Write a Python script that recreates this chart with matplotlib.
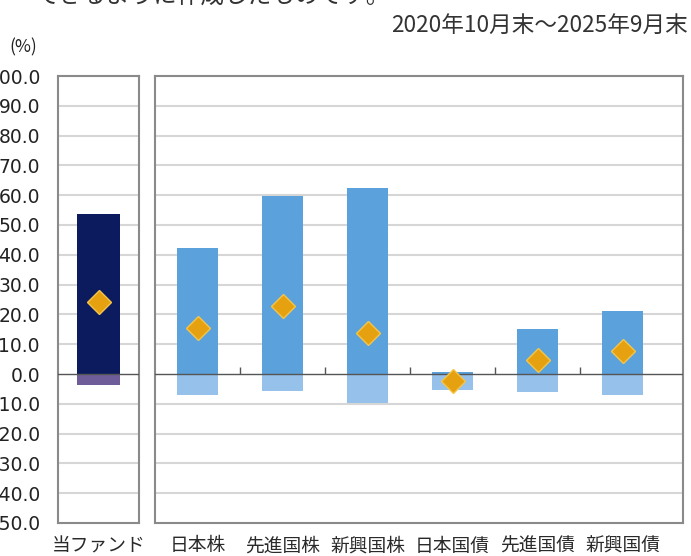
import numpy as np
import matplotlib.pyplot as plt

plt.rcParams['font.family'] = ['Noto Sans CJK JP', 'DejaVu Sans']

# 当ファンド
fund_label = ["当ファンド"]
fund_max = [53.7]
fund_min = [-3.7]
fund_avg = [24.2]

# 各資産
assets = ["日本株", "先進国株", "新興国株", "日本国債", "先進国債", "新興国債"]
asset_max = [42.3, 59.7, 62.4, 0.7, 15.1, 21.1]
asset_min = [-7.0, -5.7, -9.7, -5.4, -6.0, -7.0]
asset_avg = [15.4, 22.8, 13.8, -2.3, 4.7, 7.7]

yticks = np.arange(-50, 101, 10)

fig = plt.figure(figsize=(6.91, 5.56), dpi=100)
ax1 = fig.add_axes([58 / 691, 1 - 523 / 556, 81 / 691, 447 / 556])
ax2 = fig.add_axes([155 / 691, 1 - 523 / 556, 528 / 691, 447 / 556])

grid_c = "#d6d6d6"
for ax in (ax1, ax2):
    ax.set_ylim(-50, 100)
    ax.set_yticks(yticks)
    for y in yticks[1:-1]:
        if y != 0:
            ax.axhline(y, color=grid_c, lw=1.5, zorder=0)
    ax.axhline(0, color="#555555", lw=1.0, zorder=3)
    for s in ax.spines.values():
        s.set_color("#8a8a8a")
        s.set_linewidth(1.5)
    ax.tick_params(length=0)

# 当ファンド
x1 = np.arange(len(fund_label))
ax1.bar(x1, fund_max, width=0.53, color="#0b1b5e", zorder=2)
ax1.bar(x1, fund_min, width=0.53, color="#6e5d99", zorder=2)
ax1.plot(x1, fund_avg, "D", ms=12, color="#e5a10f", mec="#f4c54a", mew=1, zorder=4)
ax1.set_xlim(-0.5, 0.5)
ax1.set_xticks(x1)
ax1.set_xticklabels(fund_label, fontsize=13.5, color="#2a2a2a")
ax1.set_yticklabels([f"{v:.1f}" for v in yticks], family="DejaVu Sans",
                    fontsize=13.5, color="#222222")
ax1.tick_params(axis="y", pad=13)
ax1.tick_params(axis="x", pad=9)

# 各資産
x2 = np.arange(len(assets))
ax2.bar(x2, asset_max, width=0.48, color="#5ba2dd", zorder=2)
ax2.bar(x2, asset_min, width=0.48, color="#95c1ea", zorder=2)
ax2.plot(x2, asset_avg, "D", ms=12, color="#e5a10f", mec="#f4c54a", mew=1,
         ls="none", zorder=4)
ax2.vlines(x2[:-1] + 0.5, 0, 2.2, color="#555555", lw=1.0, zorder=3)
ax2.set_xlim(-0.5, 5.71)
ax2.set_xticks(x2)
ax2.set_xticklabels(assets, fontsize=13.5, color="#2a2a2a")
ax2.set_yticklabels([])
ax2.tick_params(axis="x", pad=9)

fig.text(35 / 691, 1 - 9 / 556, "できるように作成したものです。", fontsize=17,
         color="#333333", ha="left", va="bottom")
fig.text(688 / 691, 1 - 25 / 556, "2020年10月末～2025年9月末", fontsize=16.3,
         color="#333333", ha="right", va="center")
fig.text(23 / 691, 1 - 47 / 556, "(%)", fontsize=12.5, color="#222222",
         ha="center", va="center")

fig.savefig("out.png", dpi=100)
